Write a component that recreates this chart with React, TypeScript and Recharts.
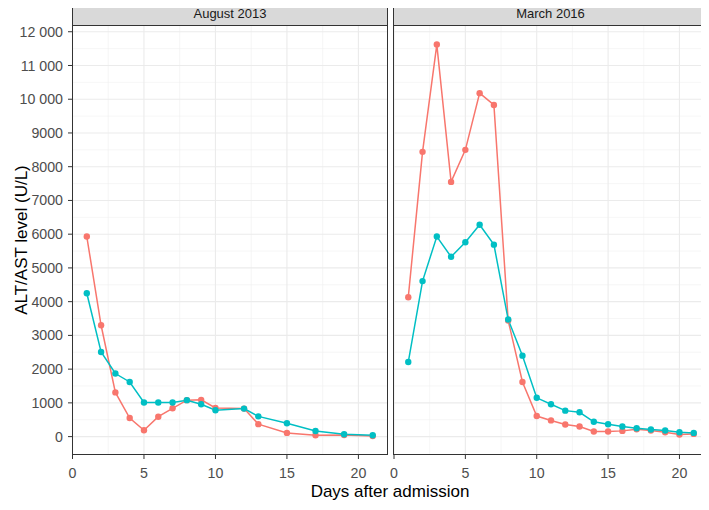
import React from "react";
import { LineChart, Line, XAxis, YAxis, CartesianGrid } from "recharts";

// August 2013 panel
const augDays = [1, 2, 3, 4, 5, 6, 7, 8, 9, 10, 12, 13, 15, 17, 19, 21];
const augAlt = [5930, 3300, 1310, 550, 190, 590, 840, 1080, 1090, 850, 830, 370, 110, 40, 50, 20];
const augAst = [4250, 2510, 1870, 1620, 1010, 1010, 1010, 1080, 960, 780, 830, 600, 395, 165, 70, 40];

// March 2016 panel
const marDays = [1, 2, 3, 4, 5, 6, 7, 8, 9, 10, 11, 12, 13, 14, 15, 16, 17, 18, 19, 20, 21];
const marAlt = [4130, 8440, 11620, 7550, 8500, 10180, 9830, 3440, 1620, 610, 480, 360, 300, 150, 150, 170, 220, 180, 130, 60, 80];
const marAst = [2210, 4610, 5930, 5330, 5760, 6280, 5690, 3470, 2400, 1150, 960, 770, 720, 440, 365, 300, 250, 210, 180, 130, 110];

const xTicks = [0, 5, 10, 15, 20];
const xMinor = [2.5, 7.5, 12.5, 17.5];
const yTicks = [0, 1000, 2000, 3000, 4000, 5000, 6000, 7000, 8000, 9000, 10000, 11000, 12000];
const yMinor = [500, 1500, 2500, 3500, 4500, 5500, 6500, 7500, 8500, 9500, 10500, 11500];

const RED = "#F8766D";
const TEAL = "#00BFC4";
const FONT = "'Liberation Sans', Arial, sans-serif";

const toRows = (days: number[], alt: number[], ast: number[]) =>
  days.map((d, i) => ({ day: d, alt: alt[i], ast: ast[i] }));

const fmtY = (v: number) => {
  const s = String(v);
  return v >= 10000 ? s.slice(0, s.length - 3) + " " + s.slice(-3) : s;
};

const tickStyle = { fill: "#4d4d4d", fontSize: 14.2, fontFamily: FONT };

function Panel({ data, showY, width, padLeft }: { data: any[]; showY: boolean; width: number; padLeft: number }) {
  return (
    <LineChart
      width={width}
      height={480}
      data={data}
      margin={{ top: 25, right: showY ? 1 : 0, bottom: 0, left: padLeft }}
    >
      <CartesianGrid
        stroke="#f0f0f0"
        strokeWidth={0.6}
        verticalValues={xMinor}
        horizontalValues={yMinor}
      />
      <CartesianGrid
        stroke="#ebebeb"
        strokeWidth={1.1}
        verticalValues={xTicks}
        horizontalValues={yTicks}
      />
      <XAxis
        dataKey="day"
        type="number"
        domain={[0, 22]}
        ticks={xTicks}
        height={25}
        axisLine={false}
        tickSize={4}
        tickMargin={9}
        tickLine={{ stroke: "#333" }}
        tick={tickStyle}
        interval={0}
      />
      <YAxis
        hide={!showY}
        type="number"
        domain={[-545, 12200]}
        ticks={yTicks}
        width={72.5}
        axisLine={false}
        tickSize={4.5}
        tickMargin={5}
        tickLine={{ stroke: "#333" }}
        tick={tickStyle}
        tickFormatter={fmtY}
        interval={0}
        allowDataOverflow
      />
      <Line
        dataKey="alt"
        stroke={RED}
        strokeWidth={1.5}
        dot={{ r: 3.2, fill: RED, stroke: "none" }}
        activeDot={false}
        isAnimationActive={false}
      />
      <Line
        dataKey="ast"
        stroke={TEAL}
        strokeWidth={1.5}
        dot={{ r: 3.2, fill: TEAL, stroke: "none" }}
        activeDot={false}
        isAnimationActive={false}
      />
    </LineChart>
  );
}

const stripStyle: React.CSSProperties = {
  position: "absolute",
  top: 1,
  height: 25,
  background: "#d9d9d9",
  border: "1px solid #333",
  boxSizing: "border-box",
  fontSize: 13,
  color: "#1a1a1a",
  display: "flex",
  alignItems: "center",
  justifyContent: "center",
};

const borderStyle: React.CSSProperties = {
  position: "absolute",
  top: 25,
  height: 430,
  border: "1px solid #333",
  boxSizing: "border-box",
  pointerEvents: "none",
};

export default function App() {
  return (
    <div
      style={{
        position: "relative",
        width: 709,
        height: 510,
        margin: -8,
        background: "#fff",
        fontFamily: FONT,
        overflow: "hidden",
      }}
    >
      <div style={{ position: "absolute", left: 0, top: 0 }}>
        <Panel data={toRows(augDays, augAlt, augAst)} showY width={388} padLeft={0} />
      </div>
      <div style={{ position: "absolute", left: 384, top: 0 }}>
        <Panel data={toRows(marDays, marAlt, marAst)} showY={false} width={324} padLeft={10} />
      </div>
      <div style={{ ...borderStyle, left: 72, width: 316 }} />
      <div style={{ ...borderStyle, left: 393, width: 315 }} />
      <div style={{ ...stripStyle, left: 72, width: 316 }}>August 2013</div>
      <div style={{ ...stripStyle, left: 393, width: 315 }}>March 2016</div>
      <div
        style={{
          position: "absolute",
          left: 22,
          top: 240,
          transform: "translate(-50%, -50%) rotate(-90deg)",
          whiteSpace: "nowrap",
          fontSize: 17,
          lineHeight: "20px",
          color: "#000",
        }}
      >
        ALT/AST level (U/L)
      </div>
      <div
        style={{
          position: "absolute",
          left: 390,
          top: 492,
          transform: "translate(-50%, -50%)",
          whiteSpace: "nowrap",
          fontSize: 17,
          lineHeight: "20px",
          color: "#000",
        }}
      >
        Days after admission
      </div>
    </div>
  );
}
